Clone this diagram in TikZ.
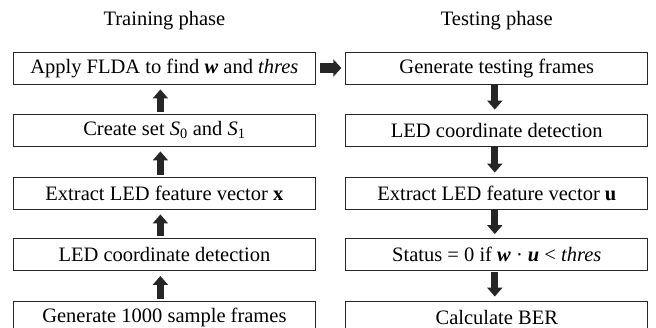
\documentclass[tikz,border=0pt]{standalone}
\usepackage{fontspec}
\setmainfont{Liberation Serif}
\usetikzlibrary{arrows.meta}
\begin{document}
\begin{tikzpicture}[x=1pt,y=-1pt,
  box/.style={draw=black!85, line width=0.9pt, minimum width=302pt, minimum height=32pt, inner sep=0pt, font=\fontsize{20.5}{24}\selectfont},
  title/.style={font=\fontsize{20.5}{24}\selectfont, inner sep=0pt},
  fatv/.style={draw=black!85, line width=7pt, -{Triangle[width=15pt,length=9pt]}, shorten <=2pt, shorten >=5pt},
  fath/.style={draw=black!85, line width=10pt, -{Triangle[width=17pt,length=8pt]}, shorten <=4pt, shorten >=4pt}]
\useasboundingbox (0,0) rectangle (656,327);
\node[title] (tl) at (164.4,21) {Training phase};
\node[title] (tr) at (496.8,21) {Testing phase};
% left column
\node[box] (l1) at (164.4,68) {Apply FLDA to find \textbf{\textit{w}} and \textit{thres}};
\node[box] (l2) at (164.4,130) {Create set \textit{S}\textsubscript{0} and \textit{S}\textsubscript{1}};
\node[box] (l3) at (164.4,193) {Extract LED feature vector \textbf{x}};
\node[box] (l4) at (164.4,254.5) {LED coordinate detection};
\node[box] (l5) at (164.4,317) {Generate 1000 sample frames};
% right column
\node[box] (r1) at (496.8,68) {Generate testing frames};
\node[box] (r2) at (496.8,130) {LED coordinate detection};
\node[box] (r3) at (496.8,193) {Extract LED feature vector \textbf{u}};
\node[box] (r4) at (496.8,254.5) {Status = 0 if \textbf{\textit{w}} · \textbf{\textit{u}} < \textit{thres}};
\node[box] (r5) at (496.8,317) {Calculate BER};
% arrows
\foreach \a/\b in {l5/l4,l4/l3,l3/l2,l2/l1}
  \draw[fatv] ([xshift=-4pt]\a.north) -- ([xshift=-4pt]\b.south);
\foreach \a/\b in {r1/r2,r2/r3,r3/r4,r4/r5}
  \draw[fatv, shorten <=1pt, shorten >=4pt] ([xshift=-2pt]\a.south) -- ([xshift=-2pt]\b.north);
\draw[fath] (l1.east) -- (r1.west);
\end{tikzpicture}
\end{document}
